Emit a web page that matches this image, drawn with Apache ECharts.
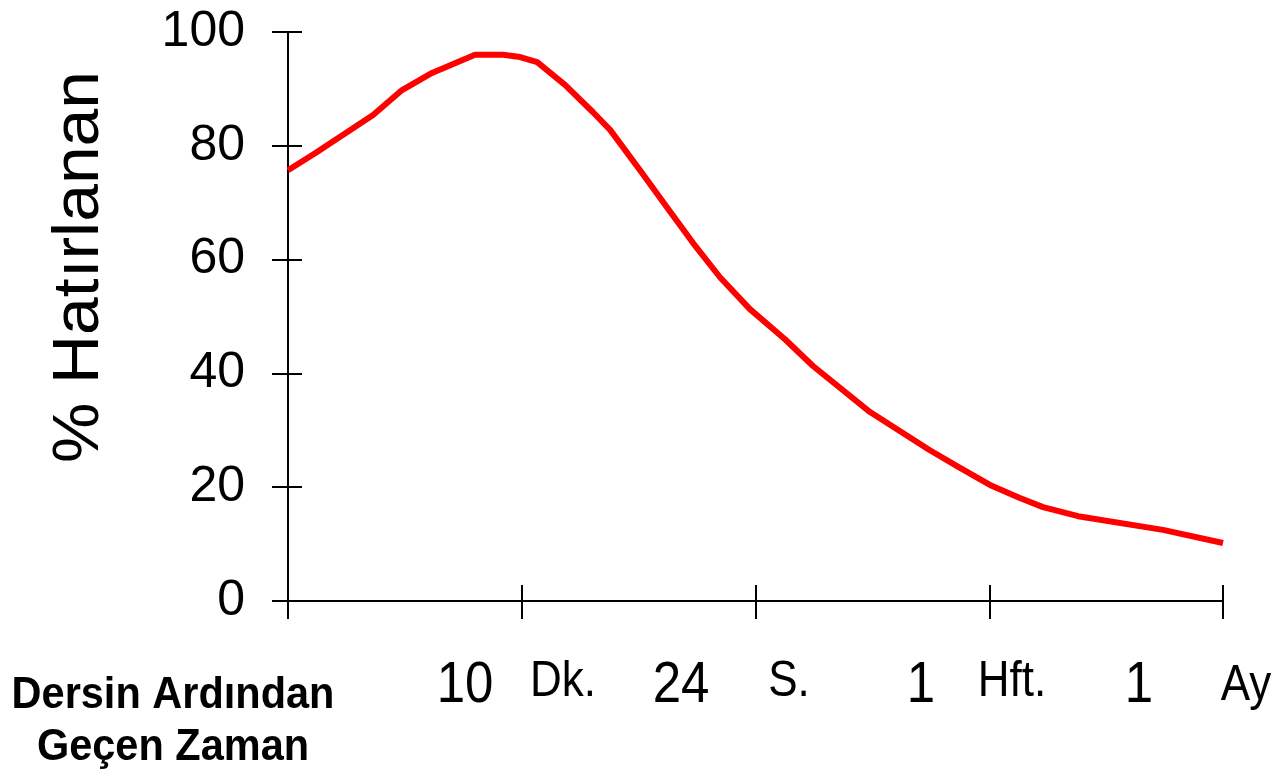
<!DOCTYPE html>
<html>
<head>
<meta charset="utf-8">
<script src="https://cdn.jsdelivr.net/npm/echarts@6/dist/echarts.min.js"></script>
<style>html,body{margin:0;padding:0;background:#fff}#c{width:1278px;height:773px}</style>
</head>
<body>
<div id="c"></div>
<script>
// Data (x: 0..4 segments along the time axis, y: % remembered)
const timeX = [0, 0.116, 0.364, 0.488, 0.616, 0.80, 0.92, 0.993, 1.066, 1.185, 1.305, 1.378, 1.506, 1.621, 1.733, 1.848, 1.976, 2.126, 2.246, 2.490, 2.746, 2.875, 3.003, 3.131, 3.230, 3.380, 3.743, 4.0];
const recallPct = [75.7, 78.7, 85.4, 89.8, 92.8, 96.0, 96.0, 95.6, 94.7, 90.7, 85.9, 82.8, 75.7, 69.2, 62.9, 56.9, 51.3, 46.0, 41.3, 33.2, 26.5, 23.4, 20.4, 18.1, 16.5, 14.9, 12.5, 10.2];
const yTicks = [0, 20, 40, 60, 80, 100];
const timeLabels = ['10', 'Dk.', '24', 'S.', '1', 'Hft.', '1', 'Ay'];
const yTitle = '% Hatırlanan';
const xTitle = ['Dersin Ardından', 'Geçen Zaman'];

// layout (pixel positions of free text)
const labelPos = [[465, 686, 51], [563, 682, 44], [681, 686, 51], [789, 682, 44], [921, 686, 51], [1012, 682, 44], [1139, 686, 51], [1246, 686, 44]];
const FONT = '"Liberation Sans", Arial, sans-serif';

const chart = echarts.init(document.getElementById('c'), null, {renderer: 'canvas'});
const pts = timeX.map((x, i) => [x, recallPct[i]]);

const axisLineStyle = {show: true, lineStyle: {color: '#000', width: 2}};
const baseX = {type: 'value', min: 0, max: 4, interval: 1, splitLine: {show: false}};
const baseY = {type: 'value', min: yTicks[0], max: yTicks[yTicks.length - 1], interval: 20, splitLine: {show: false}};

const graphics = timeLabels.map((t, i) => ({
  type: 'text', x: labelPos[i][0], y: labelPos[i][1], scaleY: 1.12,
  style: {text: t, fontSize: labelPos[i][2], fontFamily: FONT, fill: '#000', align: 'center', verticalAlign: 'middle'}
}));
graphics.push({
  type: 'text', x: 80, y: 267, rotation: Math.PI / 2, scaleX: 1.06,
  style: {text: yTitle, fontSize: 64, fontFamily: FONT, fill: '#000', align: 'center', verticalAlign: 'middle'}
});
xTitle.forEach((t, i) => graphics.push({
  type: 'text', x: 173, y: 696 + i * 52, scaleY: 1.08,
  style: {text: t, fontSize: 41.5, fontWeight: 'bold', fontFamily: FONT, fill: '#000', align: 'center', verticalAlign: 'middle'}
}));

chart.setOption({
  animation: false,
  backgroundColor: '#fff',
  grid: {left: 288, right: 55, top: 32, bottom: 172, containLabel: false},
  xAxis: [
    Object.assign({}, baseX, {axisLine: axisLineStyle, axisTick: {show: true, inside: false, length: 18, lineStyle: {color: '#000', width: 2}}, axisLabel: {show: false}}),
    Object.assign({}, baseX, {position: 'bottom', axisLine: {show: false}, axisTick: {show: true, inside: true, length: 16, lineStyle: {color: '#000', width: 2}}, axisLabel: {show: false}})
  ],
  yAxis: [
    Object.assign({}, baseY, {axisLine: axisLineStyle, axisTick: {show: true, inside: false, length: 16, lineStyle: {color: '#000', width: 2}},
      axisLabel: {show: true, margin: 43, fontSize: 50, fontFamily: FONT, color: '#000'}}),
    Object.assign({}, baseY, {position: 'left', axisLine: {show: false}, axisTick: {show: true, inside: true, length: 14, lineStyle: {color: '#000', width: 2}}, axisLabel: {show: false}})
  ],
  series: [{
    type: 'line', xAxisIndex: 0, yAxisIndex: 0, data: pts, showSymbol: false, smooth: false,
    lineStyle: {color: '#ff0000', width: 6}, z: 3
  }],
  graphic: graphics
});
</script>
</body>
</html>
